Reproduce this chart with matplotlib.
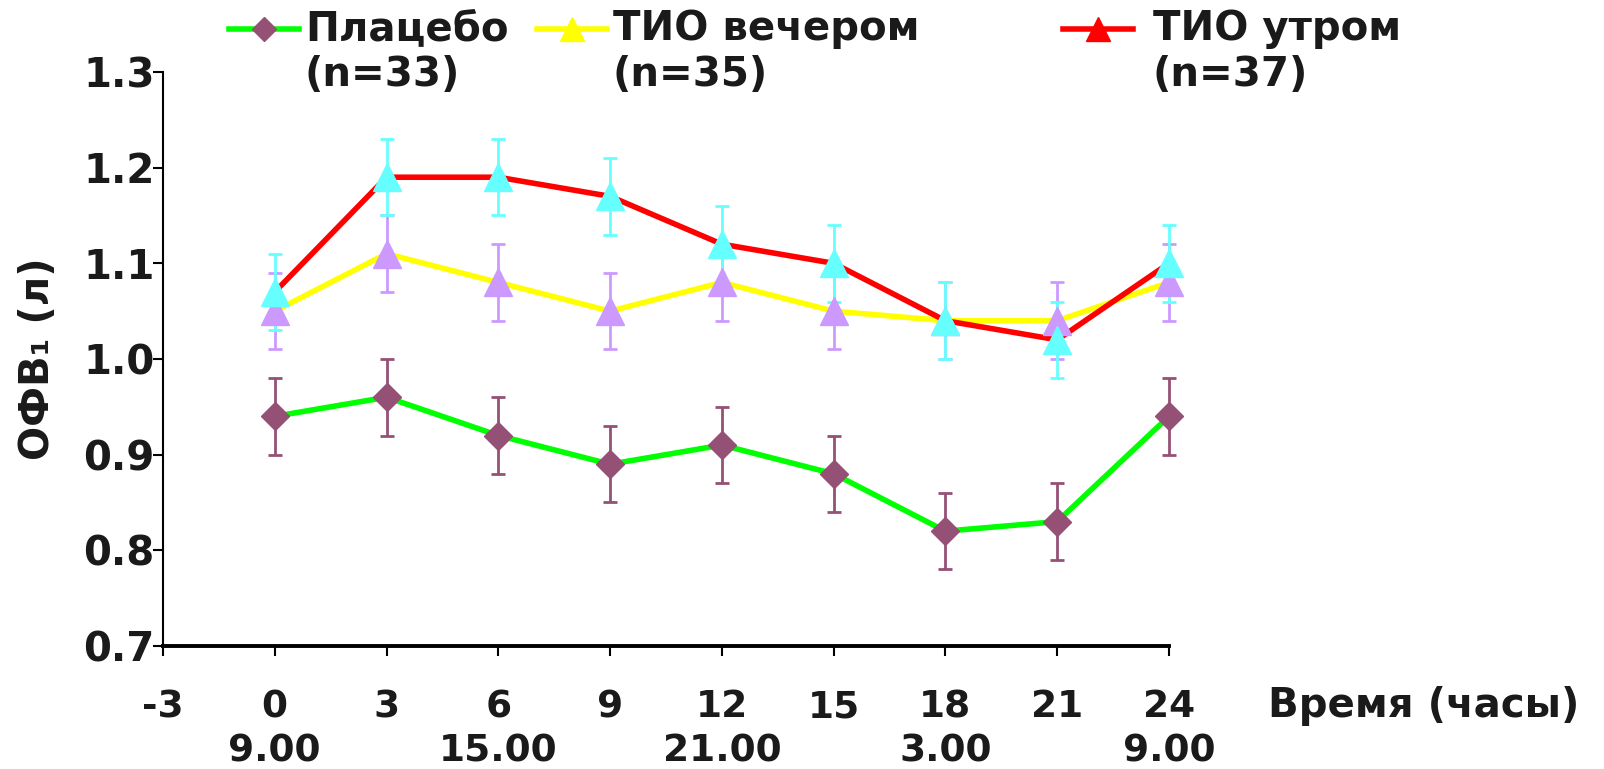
import matplotlib
matplotlib.use('Agg')
import matplotlib.pyplot as plt
from matplotlib.lines import Line2D

plt.rcParams['font.family'] = ['DejaVu Sans']
plt.rcParams['font.weight'] = 'bold'

# FEV1 over 24 hours, three groups
hours = [0, 3, 6, 9, 12, 15, 18, 21, 24]
placebo = [0.94, 0.96, 0.92, 0.89, 0.91, 0.88, 0.82, 0.83, 0.94]
placebo_err = [0.04, 0.04, 0.04, 0.04, 0.04, 0.04, 0.04, 0.04, 0.04]
tio_evening = [1.05, 1.11, 1.08, 1.05, 1.08, 1.05, 1.04, 1.04, 1.08]
tio_evening_err = [0.04, 0.04, 0.04, 0.04, 0.04, 0.04, 0.04, 0.04, 0.04]
tio_morning = [1.07, 1.19, 1.19, 1.17, 1.12, 1.10, 1.04, 1.02, 1.10]
tio_morning_err = [0.04, 0.04, 0.04, 0.04, 0.04, 0.04, 0.04, 0.04, 0.04]

xticks = [-3, 0, 3, 6, 9, 12, 15, 18, 21, 24]
xtick_labels = ['-3', '0\n9.00', '3', '6\n15.00', '9', '12\n21.00',
                '15', '18\n3.00', '21', '24\n9.00']
yticks = [0.7, 0.8, 0.9, 1.0, 1.1, 1.2, 1.3]

groups = ['Плацебо', 'ТИО вечером', 'ТИО утром']
group_n = ['(n=33)', '(n=35)', '(n=37)']

text_color = '#1a1a1a'

fig = plt.figure(figsize=(16.04, 7.69), dpi=100)
ax = fig.add_axes([0.1016, 0.16, 0.6272, 0.7464])

styles = [
    dict(line='#00ff00', face='#955075', marker='D', ms=14, key='#955075'),
    dict(line='#ffff00', face='#cc99ff', marker='^', ms=20, key='#ffff00'),
    dict(line='#ff0000', face='#66ffff', marker='^', ms=20, key='#ff0000'),
]
series = [(placebo, placebo_err), (tio_evening, tio_evening_err),
          (tio_morning, tio_morning_err)]

for (vals, errs), st in zip(series, styles):
    ax.plot(hours, vals, color=st['line'], lw=4, zorder=2, clip_on=False)
    cont = ax.errorbar(hours, vals, yerr=errs, fmt=st['marker'], ms=st['ms'],
                       mfc=st['face'], mec=st['face'], ecolor=st['face'],
                       elinewidth=2, capsize=5, capthick=2, zorder=3)
    for art in cont.get_children():
        art.set_clip_on(False)

ax.set_xlim(-3, 24)
ax.set_ylim(0.7, 1.3)
ax.set_xticks(xticks)
ax.set_xticklabels(xtick_labels, fontsize=27, fontweight='bold',
                   color=text_color, linespacing=1.3)
ax.set_yticks(yticks)
ax.set_yticklabels(['%.1f' % v for v in yticks], fontsize=29,
                   fontweight='bold', color=text_color)
ax.tick_params(axis='x', length=7, width=1.5, pad=24)
ax.tick_params(axis='y', length=7, width=1.5, pad=-1)

for side in ['top', 'right']:
    ax.spines[side].set_visible(False)
ax.spines['left'].set_linewidth(1.5)
ax.spines['bottom'].set_linewidth(2.8)

ax.set_ylabel('ОФВ₁ (л)', fontsize=29, fontweight='bold', color=text_color,
              labelpad=18)

fig.text(1268 / 1604, 1 - 706 / 769, 'Время (часы)', fontsize=29,
         fontweight='bold', color=text_color, ha='left', va='center')

# legend across the top, each entry placed separately
handle_x = [229, 537, 1063]
text_x = [305, 613, 1153]
for name, n, st, hx, tx in zip(groups, group_n, styles, handle_x, text_x):
    y1 = 1 - 29 / 769
    fig.add_artist(Line2D([hx / 1604, (hx + 70) / 1604], [y1, y1],
                          transform=fig.transFigure, color=st['line'], lw=4))
    fig.add_artist(Line2D([(hx + 35) / 1604], [y1], transform=fig.transFigure,
                          marker=st['marker'], ms=st['ms'] * 0.85,
                          mfc=st['key'], mec=st['key'], ls='none'))
    fig.text(tx / 1604, y1, name, fontsize=29, fontweight='bold',
             color=text_color, ha='left', va='center')
    fig.text(tx / 1604, 1 - 75 / 769, n, fontsize=29, fontweight='bold',
             color=text_color, ha='left', va='center')

fig.savefig('out.png', dpi=100)
